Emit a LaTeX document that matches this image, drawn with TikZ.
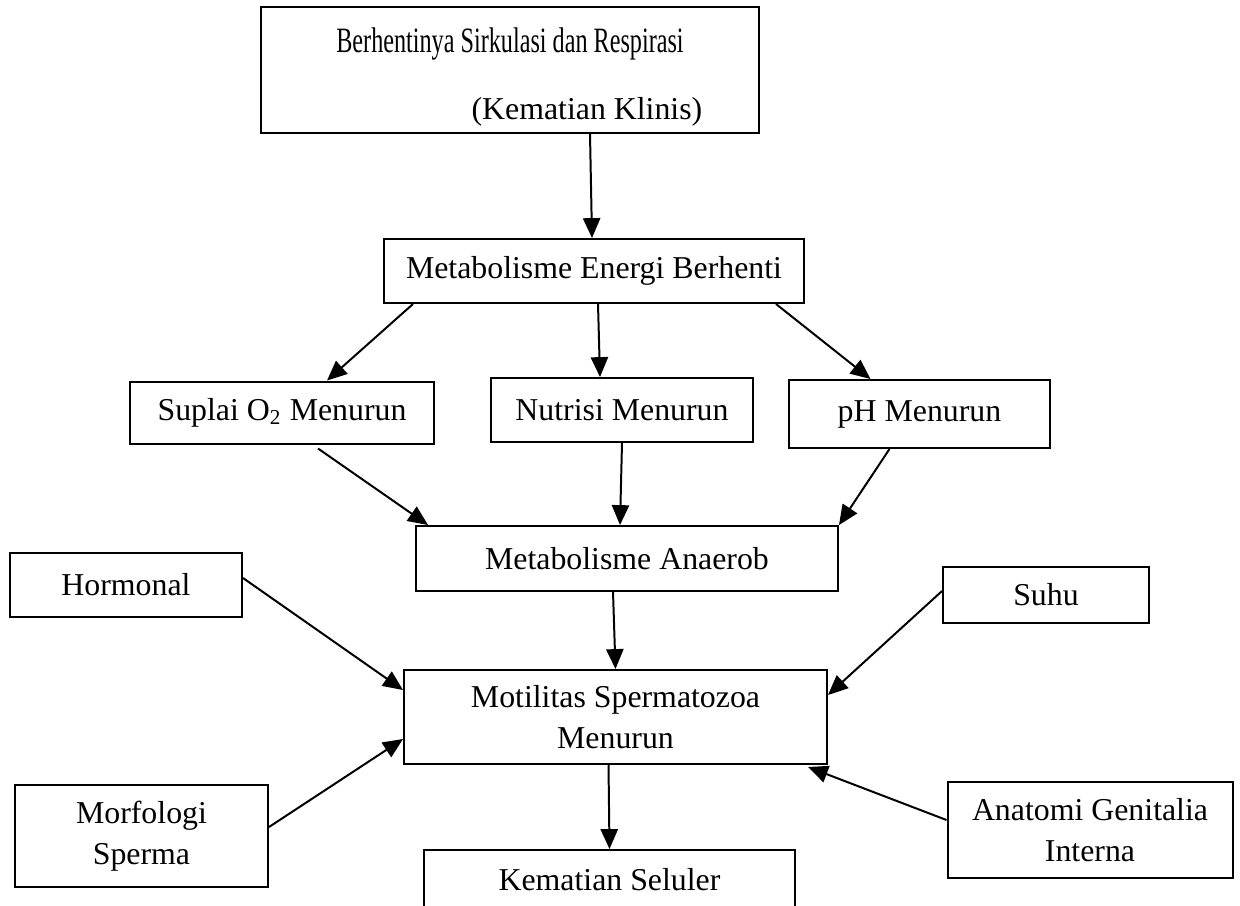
\documentclass[tikz,border=0pt]{standalone}
\usepackage{fontspec}
\setmainfont{Liberation Serif}
\usetikzlibrary{arrows.meta,calc}
\tikzset{every picture/.style={line width=0.75pt}}
\tikzset{kotak/.style 2 args={draw, align=center, inner sep=0pt,
    minimum width=#1*0.377pt, minimum height=#2*0.377pt}}

\begin{document}
\begin{tikzpicture}[x=0.377pt, y=-0.377pt, >={Triangle[length=7.5pt,width=6.5pt]},
    font=\fontsize{12}{15.5}\selectfont]
	\useasboundingbox (0,0) rectangle (1240,905);
	\path (510,70) node[kotak={498}{126}, font=\fontsize{12}{25.3}\selectfont] (K)
			{\rule{0pt}{14.7pt}\scalebox{0.76}[1.12]{Berhentinya Sirkulasi dan Respirasi}\\\hspace*{58pt}(Kematian Klinis)}
		(594,271) node[kotak={420}{64}] (E) {Metabolisme Energi Berhenti}
		(282,412.5) node[kotak={304}{62}] (O) {Suplai O\textsubscript{2} Menurun}
		(622,410) node[kotak={262}{64}] (N) {Nutrisi Menurun}
		(919.5,414) node[kotak={261}{68}] (P) {pH Menurun}
		(627,558.5) node[kotak={422}{65}] (A) {Metabolisme Anaerob}
		(126,585) node[kotak={232}{64}] (H) {Hormonal}
		(1046,595) node[kotak={206}{56}] (T) {Suhu}
		(615.5,717) node[kotak={423}{94}] (M) {Motilitas Spermatozoa\\Menurun}
		(141.5,836) node[kotak={253}{102}] (F) {Morfologi\\Sperma}
		(1090,830) node[kotak={285}{96}] (G) {Anatomi Genitalia\\Interna}
		(609.5,880) node[kotak={371}{60}] (S) {Kematian Seluler};
	\draw[->] ($(K.south)+(80,0)$) -- ($(E.north)+(-2,0)$);
	\draw[->] ($(E.south)+(-181,0)$) -- ($(O.north)+(45,0)$);
	\draw[->] ($(E.south)+(4,0)$) -- ($(N.north)+(-22,0)$);
	\draw[->] ($(E.south)+(182,0)$) -- ($(P.north)+(-49,0)$);
	\draw[->] ($(O.south)+(36,4)$) -- ($(A.north)+(-199,0)$);
	\draw[->] (N.south) -- ($(A.north)+(-7,0)$);
	\draw[->] ($(P.south)+(-30,0)$) -- (A.north east);
	\draw[->] ($(A.south)+(-14,0)$) -- (M.north);
	\draw[->] ($(H.east)+(0,-7)$) -- ($(M.west)+(0,-27)$);
	\draw[->] ($(T.west)+(0,-4)$) -- ($(M.east)+(0,-22)$);
	\draw[->] ($(F.east)+(0,-9)$) -- ($(M.west)+(0,22)$);
	\draw[->] ($(G.west)+(0,-10)$) -- ($(M.south east)+(-20,2)$);
	\draw[->] ($(M.south)+(-7,0)$) -- (S.north);
\end{tikzpicture}
\end{document}
